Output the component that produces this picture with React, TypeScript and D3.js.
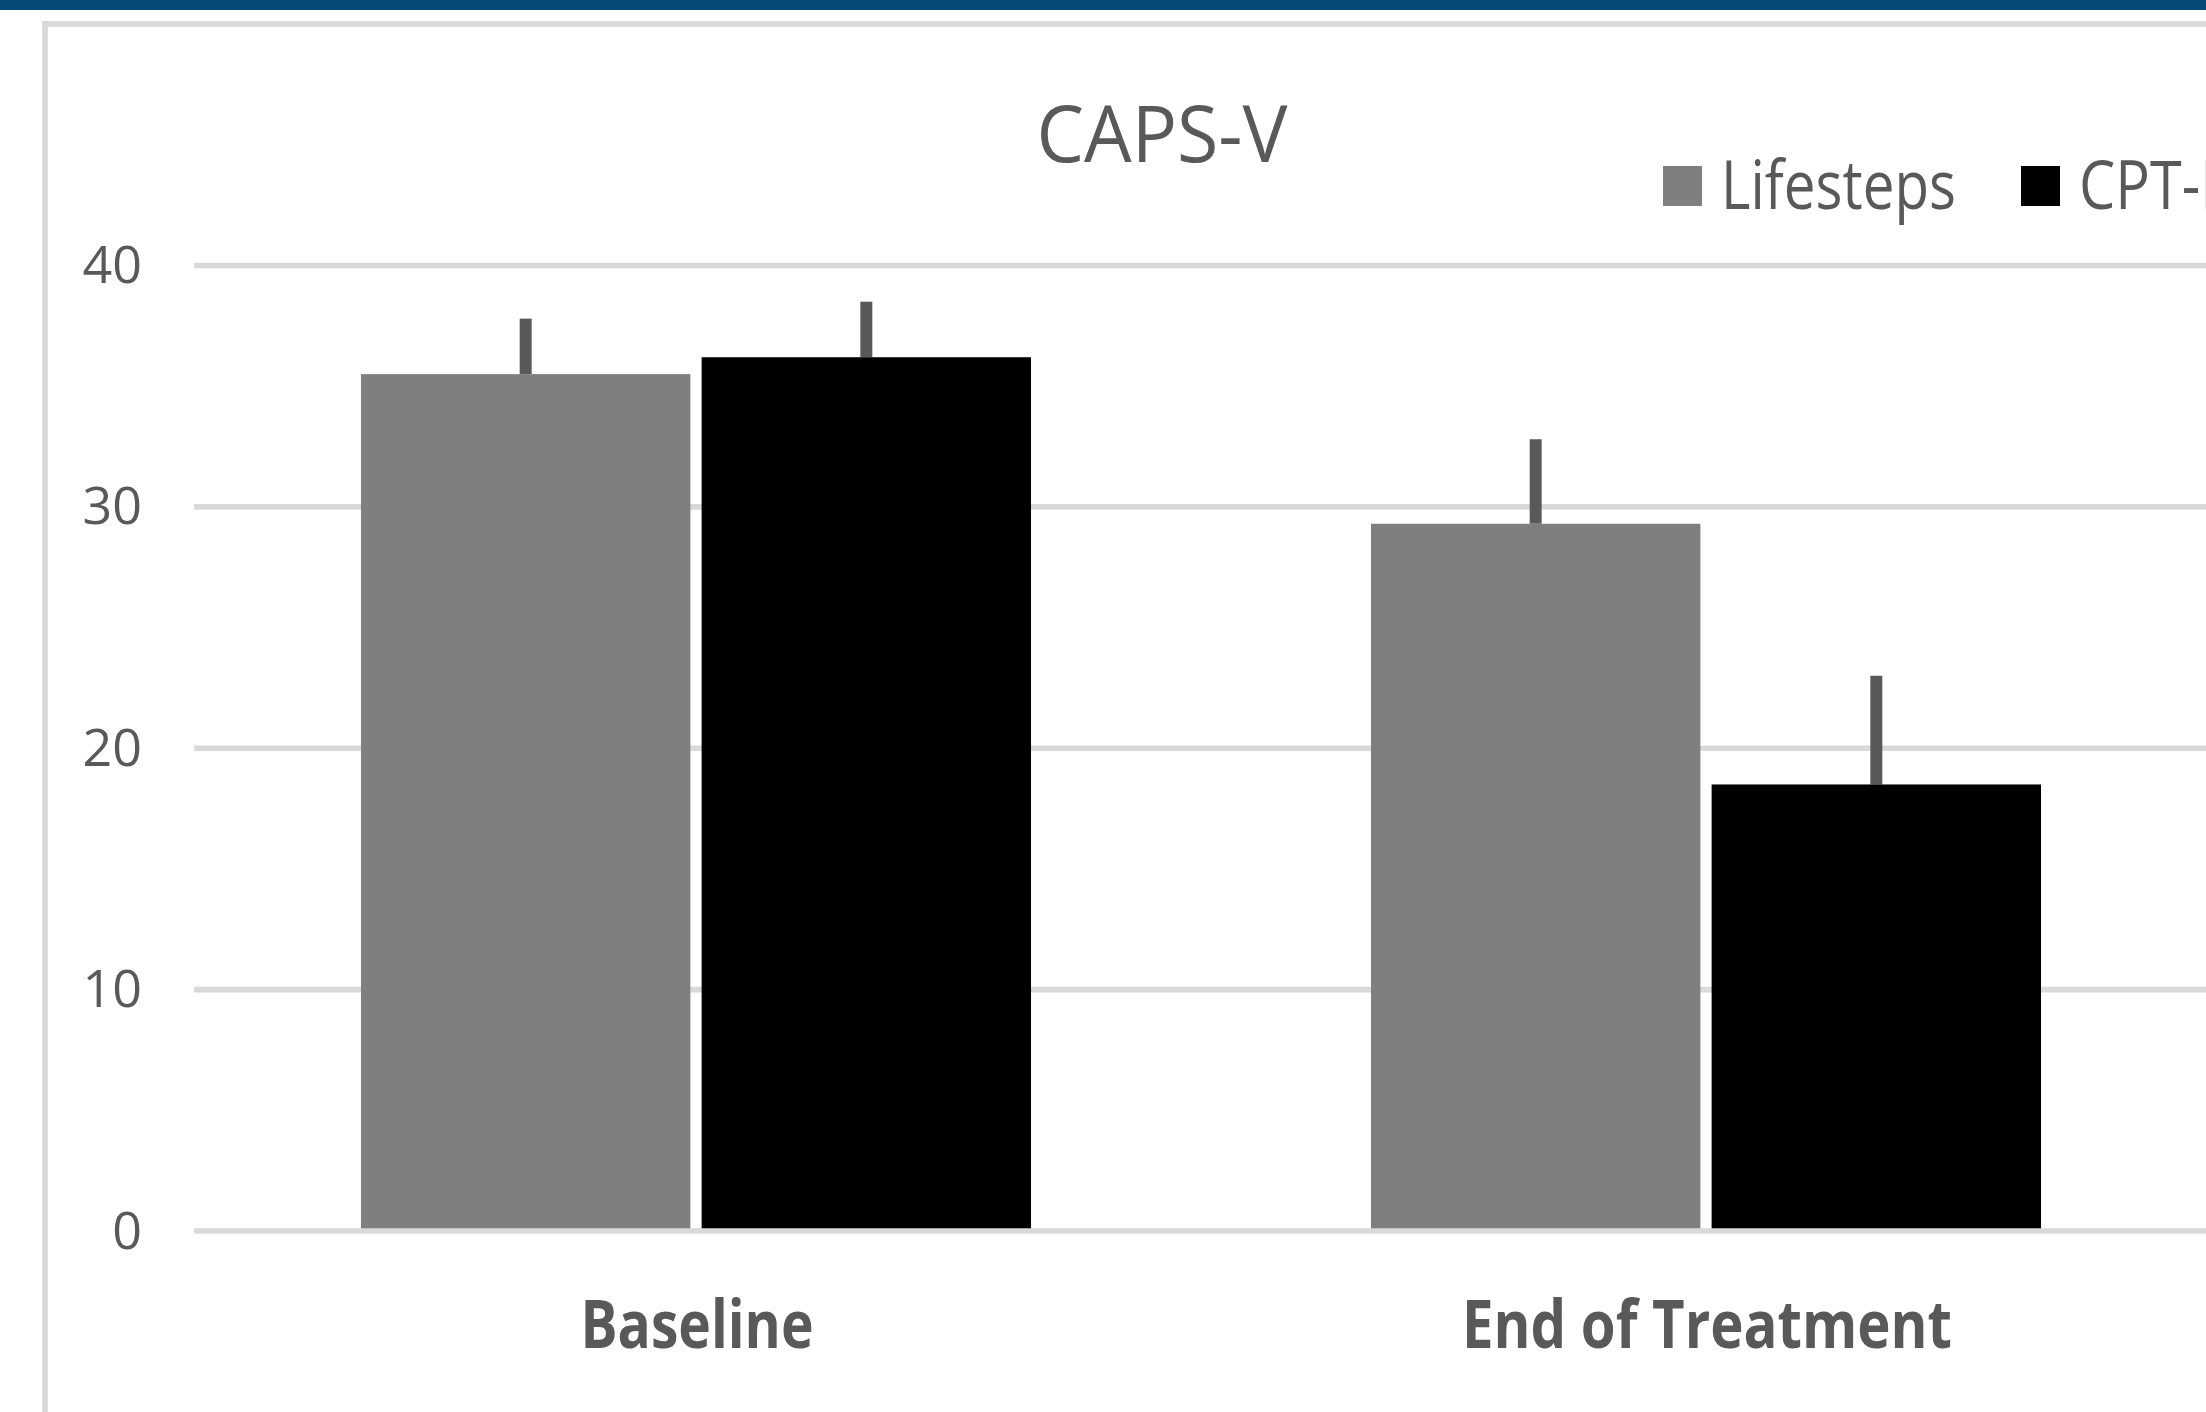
import * as d3 from "d3"

const categories = ["Baseline", "End of Treatment"]
const seriesNames = ["Lifesteps", "CPT-P"]
const lifestepsMean = [35.5, 29.3]
const cptMean = [36.2, 18.5]
const lifestepsErr = [2.3, 3.5]
const cptErr = [2.3, 4.5]
const yTicks = [0, 10, 20, 30, 40]

const W = 2206
const H = 1412
const FONT = "'Open Sans', 'DejaVu Sans', sans-serif"
const TEXT = "#595959"
const GRID = "#d9d9d9"
const COLORS = ["#7f7f7f", "#000000"]

export default function App() {
  const x0 = d3.scaleBand().domain(categories).range([191, 2211]).paddingInner(0.3366).paddingOuter(0.1683)
  const x1 = d3.scaleBand().domain(seriesNames).range([0, x0.bandwidth()]).paddingInner(0.033)
  const y = d3.scaleLinear().domain([0, 40]).range([1231, 265.5])
  const colour = d3.scaleOrdinal<string, string>().domain(seriesNames).range(COLORS)

  const rows = categories.flatMap((c, i) => [
    { cat: c, s: seriesNames[0], v: lifestepsMean[i], e: lifestepsErr[i] },
    { cat: c, s: seriesNames[1], v: cptMean[i], e: cptErr[i] },
  ])

  // legend geometry (layout only)
  const legendX = [1663, 2021]
  const legendLen = [235, 156]

  return (
    <svg width={W} height={H} style={{ position: "absolute", left: 0, top: 0, display: "block", background: "#fff" }}>
      <rect x={0} y={0} width={W} height={10} fill="#034a78" />
      {/* outer frame */}
      <line x1={45} y1={24} x2={W + 10} y2={24} stroke={GRID} strokeWidth={5.7} />
      <line x1={45} y1={21} x2={45} y2={H + 10} stroke={GRID} strokeWidth={5.7} />

      {/* gridlines */}
      {yTicks.filter(t => t > 0).map(t => (
        <line key={t} x1={194} x2={W + 10} y1={y(t)} y2={y(t)} stroke={GRID} strokeWidth={5.6} />
      ))}

      {/* bars */}
      {rows.map(r => {
        const bx = (x0(r.cat) ?? 0) + (x1(r.s) ?? 0)
        const cx = bx + x1.bandwidth() / 2
        return (
          <g key={r.cat + r.s}>
            <line x1={cx} x2={cx} y1={y(r.v)} y2={y(r.v + r.e)} stroke="#595959" strokeWidth={12} />
            <rect x={bx} y={y(r.v)} width={x1.bandwidth()} height={y(0) - y(r.v)} fill={colour(r.s)} />
          </g>
        )
      })}

      {/* zero line */}
      <line x1={194} x2={W + 10} y1={y(0)} y2={y(0)} stroke={GRID} strokeWidth={5.6} />

      {/* y tick labels */}
      {yTicks.map(t => (
        <text key={t} x={142} y={y(t) + 17.5} textAnchor="end" fontFamily={FONT} fontSize={52} fill={TEXT}>{t}</text>
      ))}

      {/* x labels */}
      {categories.map((c, i) => (
        <text key={c} x={(x0(c) ?? 0) + x0.bandwidth() / 2 + 1} y={1348} textAnchor="middle" fontFamily={FONT} fontWeight="bold"
          fontSize={66} fill={TEXT} textLength={i === 0 ? 233 : 490} lengthAdjust="spacingAndGlyphs">{c}</text>
      ))}

      {/* title */}
      <text x={1162} y={162} textAnchor="middle" fontFamily={FONT} fontSize={78} fill={TEXT}
        textLength={251} lengthAdjust="spacingAndGlyphs">CAPS-V</text>

      {/* legend */}
      {seriesNames.map((s, i) => (
        <g key={s}>
          <rect x={legendX[i]} y={166} width={39} height={40} fill={colour(s)} />
          <text x={legendX[i] + 58} y={209} fontFamily={FONT} fontSize={67} fill={TEXT}
            textLength={legendLen[i]} lengthAdjust="spacingAndGlyphs">{s}</text>
        </g>
      ))}
    </svg>
  )
}
